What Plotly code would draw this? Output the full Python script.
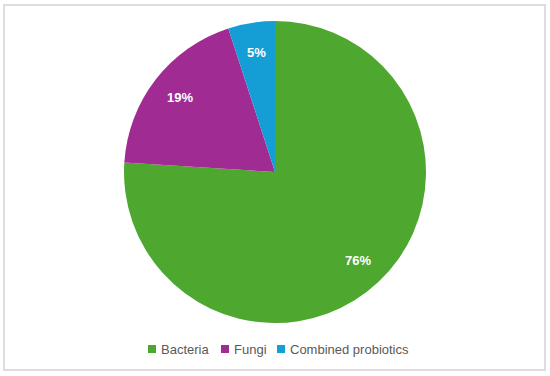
import math
import plotly.graph_objects as go

categories = ["Bacteria", "Fungi", "Combined probiotics"]
values = [76, 19, 5]
colors = ["#4EA72E", "#A02B93", "#159ED5"]

W, H = 550, 376
# pie geometry in pixels
CX, CY, R = 275, 172, 151

fig = go.Figure(go.Pie(
    labels=categories,
    values=values,
    sort=False,
    direction="clockwise",
    rotation=0,
    marker=dict(colors=colors, line=dict(color="white", width=0)),
    textinfo="none",
    domain=dict(x=[(CX - R) / W, (CX + R) / W], y=[(H - CY - R) / H, (H - CY + R) / H]),
    hoverinfo="label+percent",
    showlegend=False,
))

# data labels placed along each slice's mid-angle (like Excel best-fit)
total = sum(values)
annotations = []
shapes = []
cum = 0
for v in values:
    mid = (cum + v / 2) / total * 2 * math.pi
    cum += v
    x = CX + 0.8 * R * math.sin(mid)
    y = CY - 0.8 * R * math.cos(mid)
    annotations.append(dict(
        x=x / W, y=(H - y) / H, xref="paper", yref="paper",
        text=f"<b>{round(v / total * 100)}%</b>", showarrow=False,
        font=dict(color="white", size=13, family="Liberation Sans"),
        xanchor="center", yanchor="middle",
    ))

# custom legend (Excel style: small squares with tight spacing)
legend_x = [148, 221, 277]
LY, SQ = 349, 8
for lx, name, col in zip(legend_x, categories, colors):
    shapes.append(dict(
        type="rect", xref="paper", yref="paper",
        x0=lx / W, x1=(lx + SQ) / W, y0=(H - LY - SQ / 2) / H, y1=(H - LY + SQ / 2) / H,
        line=dict(width=0), fillcolor=col,
    ))
    annotations.append(dict(
        x=(lx + SQ + 3) / W, y=(H - LY) / H, xref="paper", yref="paper",
        text=name, showarrow=False, xanchor="left", yanchor="middle",
        font=dict(color="#595959", size=13, family="Liberation Sans"),
    ))

# chart area border
shapes.append(dict(
    type="rect", xref="paper", yref="paper",
    x0=4 / W, x1=545 / W, y0=(H - 370) / H, y1=(H - 5) / H,
    line=dict(color="#DDDDDD", width=2), fillcolor="rgba(0,0,0,0)",
    layer="below",
))

fig.update_layout(
    width=W, height=H,
    margin=dict(l=0, r=0, t=0, b=0),
    paper_bgcolor="white",
    plot_bgcolor="white",
    font=dict(family="Liberation Sans", color="#595959", size=13),
    showlegend=False,
    annotations=annotations,
    shapes=shapes,
)

fig.write_html(
    "out.html",
    config={"displayModeBar": False},
    post_script="document.body.style.margin='0';document.body.style.overflow='hidden';",
)
